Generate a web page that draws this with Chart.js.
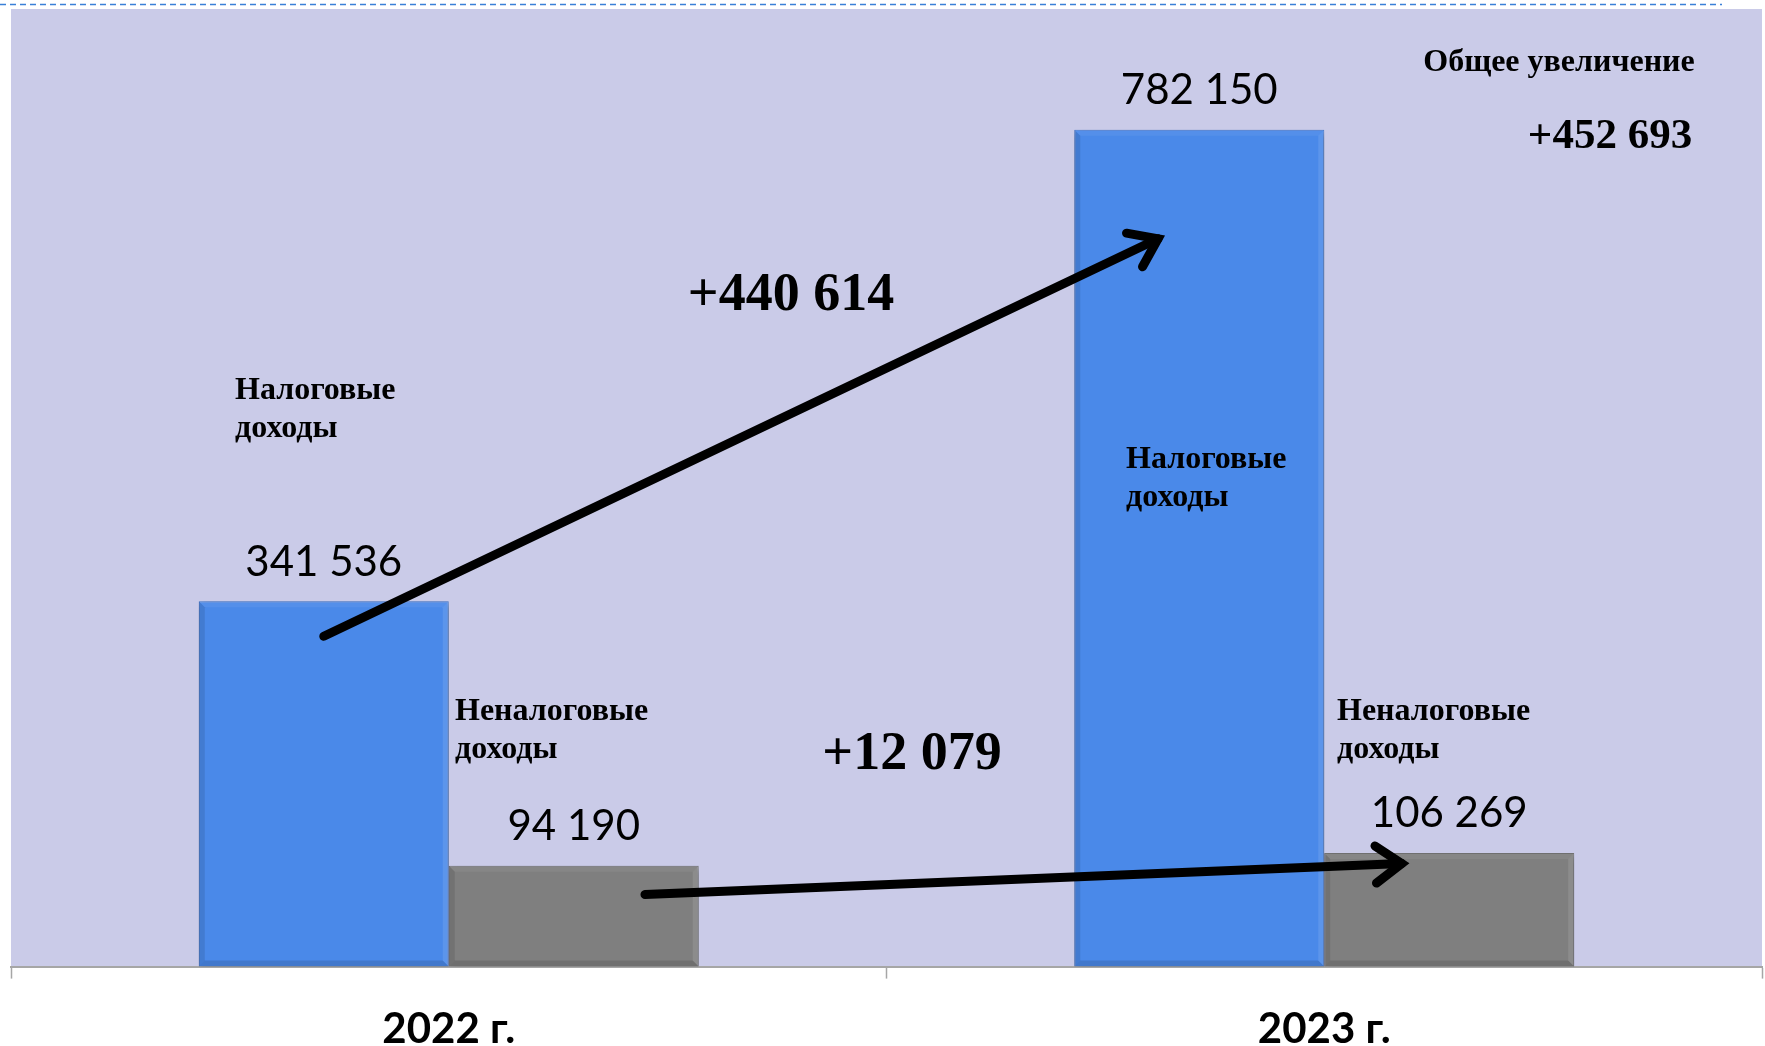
<!DOCTYPE html>
<html lang="ru">
<head>
  <meta charset="UTF-8" />
  <title>Налоговые и неналоговые доходы</title>
  <script src="https://cdn.jsdelivr.net/npm/chart.js"></script>
  <style>
    html, body { margin: 0; padding: 0; background: #ffffff; overflow: hidden; }
    #wrap { width: 1765px; height: 1046px; }
  </style>
</head>
<body>
  <div id="wrap"><canvas id="revenueChart" width="1765" height="1046"></canvas></div>

  <script>
    // Data
    const years = ['2022 г.', '2023 г.'];
    const seriesNames = ['Налоговые доходы', 'Неналоговые доходы'];
    const taxIncome = [341536, 782150];
    const nonTaxIncome = [94190, 106269];
    const taxGrowth = '+440 614';
    const nonTaxGrowth = '+12 079';
    const totalGrowthTitle = 'Общее увеличение';
    const totalGrowth = '+452 693';

    const colors = {
      plotBg: '#cacbe8',
      blue: '#4a89e9',
      blueEdge: '#3c76d2',
      gray: '#7f7f7f',
      grayEdge: '#6d6d6d',
      axis: '#a6a6a6',
      dash: '#3a80d8',
      text: '#000000'
    };

    const fmt = v => String(v).replace(/\B(?=(\d{3})+(?!\d))/g, ' ');

    // arrows: [datasetIndex, barIndex, offset as share of bar width, value]
    const arrows = [
      { from: [0, 0, 0.0, 308800], to: [0, 1, -0.165, 680300] },
      { from: [1, 0, 0.285, 67400], to: [1, 1, -0.19, 96400] }
    ];

    const serif = '"Liberation Serif", "Times New Roman", serif';

    // plot background + dashed line at the top
    const backdrop = {
      id: 'backdrop',
      beforeDraw(chart) {
        const { ctx, chartArea: a } = chart;
        ctx.save();
        ctx.fillStyle = colors.plotBg;
        ctx.fillRect(a.left, a.top, a.right - a.left, a.bottom - a.top);
        ctx.strokeStyle = colors.dash;
        ctx.lineWidth = 1.5;
        ctx.setLineDash([6, 4]);
        ctx.beginPath();
        ctx.moveTo(0, 4.5);
        ctx.lineTo(1722, 4.5);
        ctx.stroke();
        ctx.restore();
      }
    };

    // drop shadow under the bars, then a light bevel on their edges
    const barShadow = {
      id: 'barShadow',
      beforeDatasetsDraw(chart) {
        const ctx = chart.ctx;
        ctx.save();
        ctx.shadowColor = 'rgba(0,0,0,0.4)';
        ctx.shadowBlur = 7;
        ctx.shadowOffsetX = 2;
        ctx.shadowOffsetY = 3;
      },
      afterDatasetsDraw(chart) {
        const ctx = chart.ctx;
        ctx.restore();
        ctx.save();
        const e = 6;
        chart.data.datasets.forEach((ds, di) => {
          chart.getDatasetMeta(di).data.forEach(bar => {
            const l = bar.x - bar.width / 2, r = bar.x + bar.width / 2;
            const t = bar.y, b = bar.base;
            ctx.fillStyle = 'rgba(0,0,0,0.10)';
            ctx.beginPath();
            ctx.moveTo(l, t); ctx.lineTo(l + e, t + e); ctx.lineTo(l + e, b - e); ctx.lineTo(l, b);
            ctx.fill();
            ctx.fillStyle = 'rgba(0,0,0,0.12)';
            ctx.beginPath();
            ctx.moveTo(l, b); ctx.lineTo(l + e, b - e); ctx.lineTo(r - e, b - e); ctx.lineTo(r, b);
            ctx.fill();
            ctx.fillStyle = 'rgba(255,255,255,0.10)';
            ctx.beginPath();
            ctx.moveTo(r, t); ctx.lineTo(r - e, t + e); ctx.lineTo(r - e, b - e); ctx.lineTo(r, b);
            ctx.fill();
            ctx.fillStyle = 'rgba(255,255,255,0.06)';
            ctx.beginPath();
            ctx.moveTo(l, t); ctx.lineTo(l + e, t + e); ctx.lineTo(r - e, t + e); ctx.lineTo(r, t);
            ctx.fill();
          });
        });
        ctx.restore();
      }
    };

    function barPoint(chart, ref) {
      const bar = chart.getDatasetMeta(ref[0]).data[ref[1]];
      const y = chart.scales.y.getPixelForValue(ref[3]);
      return { x: bar.x + ref[2] * bar.width, y };
    }

    function drawArrow(ctx, p, q) {
      const ang = Math.atan2(q.y - p.y, q.x - p.x);
      const head = 32, spread = 0.62;
      ctx.beginPath();
      ctx.moveTo(p.x, p.y);
      ctx.lineTo(q.x, q.y);
      ctx.stroke();
      ctx.beginPath();
      ctx.moveTo(q.x - head * Math.cos(ang - spread), q.y - head * Math.sin(ang - spread));
      ctx.lineTo(q.x, q.y);
      ctx.lineTo(q.x - head * Math.cos(ang + spread), q.y - head * Math.sin(ang + spread));
      ctx.stroke();
    }

    const annotations = {
      id: 'annotations',
      afterDraw(chart) {
        const ctx = chart.ctx;
        ctx.save();

        // value labels above bars
        ctx.fillStyle = colors.text;
        ctx.font = '42px Lato, Carlito, sans-serif';
        ctx.textAlign = 'center';
        ctx.textBaseline = 'middle';
        chart.data.datasets.forEach((ds, di) => {
          chart.getDatasetMeta(di).data.forEach((bar, i) => {
            ctx.fillText(fmt(ds.data[i]), bar.x, bar.y - 39);
          });
        });

        // series names
        const nameLines = seriesNames.map(n => n.split(' '));
        ctx.font = 'bold 32px ' + serif;
        ctx.textAlign = 'left';
        const namePos = [
          [0, 235, 391], [0, 1126, 460],
          [1, 455, 712], [1, 1337, 712]
        ];
        namePos.forEach(([s, x, y]) => {
          ctx.fillText(nameLines[s][0], x, y);
          ctx.fillText(nameLines[s][1], x, y + 38);
        });

        // growth figures
        ctx.textAlign = 'center';
        ctx.font = 'bold 54px ' + serif;
        ctx.fillText(taxGrowth, 791, 296);
        ctx.fillText(nonTaxGrowth, 912, 755);
        ctx.font = 'bold 32px ' + serif;
        ctx.fillText(totalGrowthTitle, 1559, 63);
        ctx.font = 'bold 43px ' + serif;
        ctx.fillText(totalGrowth, 1610, 137);

        // arrows
        ctx.strokeStyle = '#000000';
        ctx.lineWidth = 9;
        ctx.lineCap = 'round';
        ctx.lineJoin = 'miter';
        arrows.forEach(a => drawArrow(ctx, barPoint(chart, a.from), barPoint(chart, a.to)));

        ctx.restore();
      }
    };

    new Chart(document.getElementById('revenueChart'), {
      type: 'bar',
      data: {
        labels: years,
        datasets: [
          {
            label: seriesNames[0],
            data: taxIncome,
            backgroundColor: colors.blue,
            borderColor: colors.blueEdge,
            borderWidth: 1
          },
          {
            label: seriesNames[1],
            data: nonTaxIncome,
            backgroundColor: colors.gray,
            borderColor: colors.grayEdge,
            borderWidth: 1
          }
        ]
      },
      options: {
        responsive: false,
        animation: false,
        devicePixelRatio: 1,
        layout: { padding: { left: 11, right: 3, top: 9, bottom: -35 } },
        datasets: {
          bar: { categoryPercentage: 0.571, barPercentage: 1.0 }
        },
        plugins: {
          legend: { display: false },
          tooltip: { enabled: false }
        },
        scales: {
          x: {
            offset: true,
            grid: {
              offset: true,
              drawOnChartArea: false,
              drawTicks: true,
              tickLength: 12,
              tickColor: colors.axis,
              tickWidth: 1.5
            },
            border: { display: true, color: colors.axis, width: 2 },
            ticks: {
              color: colors.text,
              padding: 26,
              font: { family: 'Lato, Carlito, sans-serif', size: 42, weight: 'bold', lineHeight: 1.2 }
            }
          },
          y: {
            display: false,
            min: 0,
            max: 895000
          }
        }
      },
      plugins: [backdrop, barShadow, annotations]
    });
  </script>
</body>
</html>
